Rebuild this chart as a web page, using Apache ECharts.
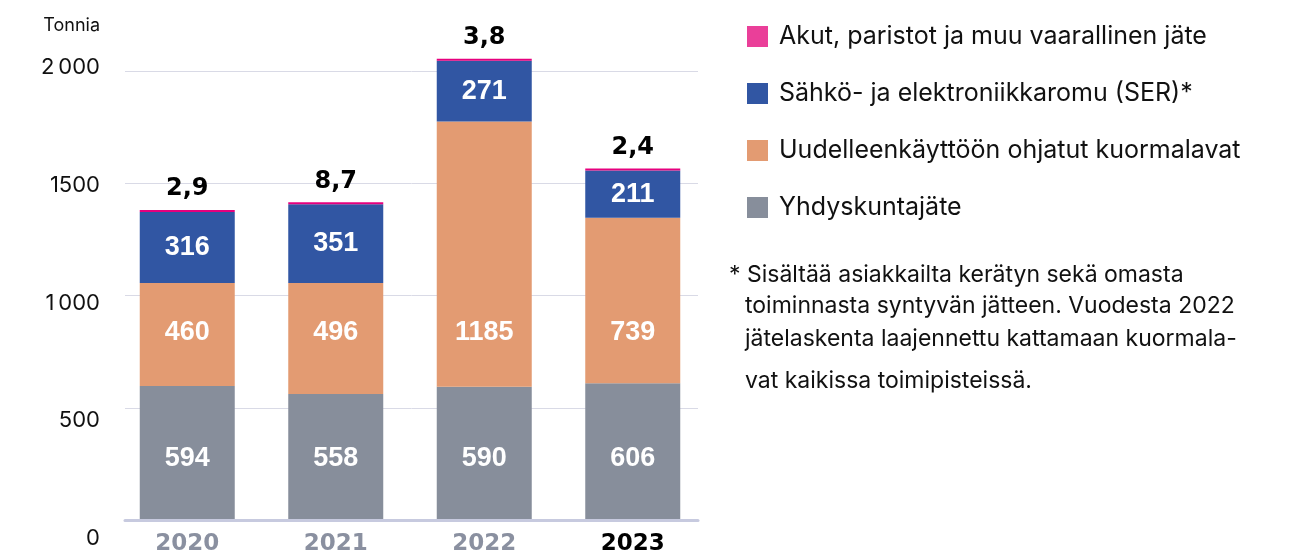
<!DOCTYPE html>
<html>
<head>
<meta charset="utf-8">
<script src="https://cdn.jsdelivr.net/npm/echarts@6/dist/echarts.min.js"></script>
<style>
  html, body { margin: 0; padding: 0; background: #fff; }
  #chart { width: 1290px; height: 556px; }
</style>
</head>
<body>
<div id="chart"></div>
<script>
const years = ['2020', '2021', '2022', '2023'];
const yhdyskunta = [594, 558, 590, 606];
const kuormalavat = [460, 496, 1185, 739];
const ser = [316, 351, 271, 211];
const vaarallinen = [2.9, 8.7, 3.8, 2.4];
const yTicks = { 0: '0', 500: '500', 1000: '1\u202f000', 1500: '1500', 2000: '2\u202f000' };
// label nudges, the original ticks drift slightly downwards
const yNudge = { 0: 18, 500: 13, 1000: 8, 1500: 2, 2000: -4 };

const names = [
  'Yhdyskuntajäte',
  'Uudelleenkäyttöön ohjatut kuormalavat',
  'Sähkö- ja elektroniikkaromu (SER)*',
  'Akut, paristot ja muu vaarallinen jäte'
];
const colors = ['#878e9b', '#e39b72', '#3156a3', '#e6007e'];
// grey and orange value labels sit on one common line in the original
const labelLevel = [272, 831];

const footnote = [
  '* Sisältää asiakkailta kerätyn sekä omasta',
  'toiminnasta syntyvän jätteen. Vuodesta 2022',
  'jätelaskenta laajennettu kattamaan kuormala-',
  'vat kaikissa toimipisteissä.'
];

const valueFont = 'Liberation Sans, Arial, sans-serif';
const wideFont = 'DejaVu Sans, sans-serif';
const textFont = 'Inter, Noto Sans, sans-serif';

let myChart = echarts.init(document.getElementById('chart'));

const rich = {};
Object.keys(yNudge).forEach(function (k) {
  const d = yNudge[k];
  rich['t' + k] = {
    fontFamily: textFont, fontSize: 22, color: '#111',
    padding: d >= 0 ? [2 * d, 0, 0, 0] : [0, 0, -2 * d, 0]
  };
});

function inside(data, i) {
  return {
    name: names[i],
    type: 'bar',
    stack: 'total',
    xAxisIndex: 1,
    yAxisIndex: 1,
    barWidth: 95,
    data: data,
    itemStyle: { color: colors[i] },
    label: {
      show: true,
      position: 'inside',
      color: '#fff',
      fontFamily: valueFont,
      fontWeight: 'bold',
      fontSize: 27
    }
  };
}

const footY = [276, 307, 340, 382];
const footGraphic = footnote.map(function (t, i) {
  return {
    type: 'text', left: i === 0 ? 729 : 745, top: footY[i] - 12,
    style: { text: t, fontFamily: textFont, fontSize: 23, fill: '#111' }
  };
});

myChart.setOption({
  animation: false,
  grid: [
    { left: 125, right: 592, top: 71, bottom: 36 },
    { left: 113, right: 583, top: 48.6, bottom: 36 }
  ],
  legend: {
    orient: 'vertical',
    left: 742,
    top: 19,
    itemWidth: 21,
    itemHeight: 21,
    itemGap: 32,
    icon: 'rect',
    data: [
      { name: names[3], itemStyle: { color: '#ea3f99' } },
      names[2], names[1], names[0]
    ],
    textStyle: { fontFamily: textFont, fontSize: 25, color: '#111', padding: [0, 0, 0, 6] }
  },
  graphic: footGraphic,
  xAxis: [
    {
      type: 'category', gridIndex: 0, data: years,
      axisLine: { lineStyle: { color: '#c7cadf', width: 3 } },
      axisTick: { show: false },
      axisLabel: { show: false }
    },
    {
      type: 'category', gridIndex: 1,
      data: years.map(function (y, i) {
        return i === years.length - 1 ? { value: y, textStyle: { color: '#000' } } : y;
      }),
      axisLine: { show: false },
      axisTick: { show: false },
      axisLabel: { margin: 14, color: '#8a90a0', fontFamily: wideFont, fontWeight: 'bold', fontSize: 23 }
    }
  ],
  yAxis: [
    {
      type: 'value', gridIndex: 0, min: 0, max: 2000, interval: 500,
      name: 'Tonnia',
      nameGap: 36,
      nameTextStyle: { fontFamily: textFont, fontSize: 18, color: '#111', align: 'right', padding: [0, 25, 0, 0] },
      axisLine: { show: false },
      axisTick: { show: false },
      splitLine: { lineStyle: { color: '#d9dae6', width: 1 } },
      axisLabel: {
        margin: 25,
        formatter: function (v) { return '{t' + v + '|' + yTicks[v] + '}'; },
        rich: rich
      }
    },
    {
      type: 'value', gridIndex: 1, min: 0, max: 2100, interval: 500, show: false,
      splitLine: { show: false }
    }
  ],
  series: [
    inside(yhdyskunta, 0),
    inside(kuormalavat, 1),
    inside(ser, 2),
    {
      name: names[3],
      type: 'bar',
      stack: 'total',
      xAxisIndex: 1,
      yAxisIndex: 1,
      barWidth: 95,
      barMinHeight: 2,
      data: vaarallinen,
      itemStyle: { color: colors[3] },
      label: {
        show: true,
        position: 'top',
        distance: 9,
        color: '#000',
        fontFamily: wideFont,
        fontWeight: 'bold',
        fontSize: 24,
        formatter: function (p) { return String(p.value).replace('.', ','); }
      }
    }
  ]
});

// move grey and orange labels onto their common line
function toY(v) { return myChart.convertToPixel({ yAxisIndex: 1 }, v); }
const lower = [yhdyskunta, kuormalavat];
const shifted = lower.map(function (arr, s) {
  return arr.map(function (v, j) {
    const base = s === 0 ? 0 : yhdyskunta[j];
    const dy = toY(labelLevel[s]) - toY(base + v / 2);
    return { value: v, label: { offset: [0, dy] } };
  });
});
myChart.setOption({ series: [{ data: shifted[0] }, { data: shifted[1] }] });

window.addEventListener('resize', function () {
  myChart.resize();
});
</script>
</body>
</html>
